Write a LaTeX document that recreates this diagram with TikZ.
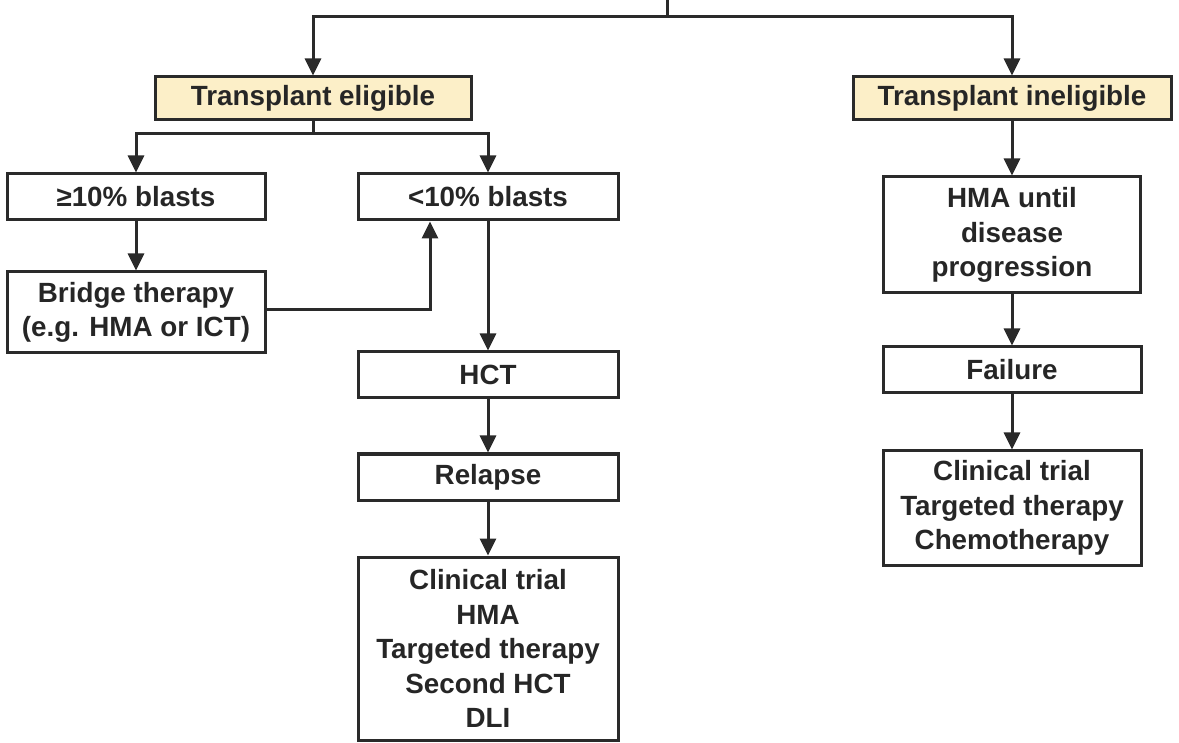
\documentclass[tikz,border=0pt]{standalone}
\usepackage{fontspec}
\setmainfont{Liberation Sans}
\usetikzlibrary{arrows.meta}
\definecolor{boxfill}{HTML}{FCEFC8}
\definecolor{linecol}{HTML}{2A2A2A}
\definecolor{txtcol}{HTML}{262626}
\tikzset{
  box/.style={draw=linecol, line width=3pt, rectangle, align=center, inner sep=0pt,
    font=\bfseries\fontsize{27.8}{34.5}\selectfont, text=txtcol},
  ybox/.style={box, fill=boxfill},
  conn/.style={draw=linecol, line width=3pt},
  arr/.style={conn, -{Triangle[width=16pt,length=17pt]}},
}
\begin{document}
\begin{tikzpicture}[x=1pt,y=-1pt]
\useasboundingbox (0,0) rectangle (1179,743);
\node[ybox, minimum width=316pt, minimum height=43pt] (te) at (313,98.5) {Transplant eligible};
\node[ybox, minimum width=318pt, minimum height=43pt] (ti) at (1012,98.5) {Transplant ineligible};
\node[box, minimum width=258pt, minimum height=46pt] (b1) at (136,197) {≥10\% blasts};
\node[box, minimum width=260pt, minimum height=46pt] (b2) at (488,197) {<10\% blasts};
\node[box, minimum width=258pt, minimum height=81pt] (br) at (136,312.5) {Bridge therapy\\(e.g. HMA or ICT)};
\node[box, minimum width=260pt, minimum height=46pt] (hct) at (488,375) {HCT};
\node[box, minimum width=260pt, minimum height=46pt] (rel) at (488,477) {Relapse};
\node[box, minimum width=260pt, minimum height=183pt] (opt) at (488,648.5) {Clinical trial\\HMA\\Targeted therapy\\Second HCT\\DLI};
\node[box, minimum width=257pt, minimum height=116pt] (hma) at (1012,235) {HMA until\\disease\\progression};
\node[box, minimum width=258pt, minimum height=46pt] (fail) at (1012,370) {Failure};
\node[box, minimum width=258pt, minimum height=114pt] (ct) at (1012,508) {Clinical trial\\Targeted therapy\\Chemotherapy};
\coordinate (top) at (667,-2);
\coordinate (j0) at (667,17);
\coordinate (j1) at (313,134);
% top split
\draw[conn] (top) -- (j0);
\draw[arr] (j0) -| (te.north);
\draw[arr] (j0) -| (ti.north);
% eligible split
\draw[conn] (te.south) -- (j1);
\draw[arr] (j1) -| (b1.north);
\draw[arr] (j1) -| (b2.north);
\draw[arr] (b1) -- (br);
\draw[arr] (br.east |- 0,310) -| (b2.south -| 430,0);
\draw[arr] (b2) -- (hct);
\draw[arr] (hct) -- (rel);
\draw[arr] (rel) -- (opt);
% ineligible column
\draw[arr] (ti) -- (hma);
\draw[arr] (hma) -- (fail);
\draw[arr] (fail) -- (ct);
\end{tikzpicture}
\end{document}
